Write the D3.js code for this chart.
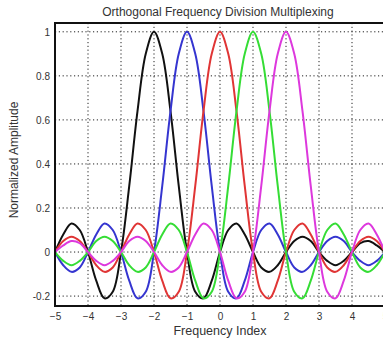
<!DOCTYPE html>
<html>
<head>
<meta charset="utf-8">
<script src="https://cdn.jsdelivr.net/npm/d3@7"></script>
<style>
  body { margin: 0; background: #fff; }
  text { font-family: "Liberation Sans", Arial, sans-serif; fill: #333; }
</style>
</head>
<body>
<div id="chart"></div>
<script>
// frequency index samples (x) and normalized amplitude of each subcarrier
const freqIndex = d3.range(-5, 5.001, 0.25);

const sub_m2 = [0, .08, .13, .10, 0, -.13, -.21, -.18, 0, .30, .64, .90, 1, .90, .64, .30,
  0, -.18, -.21, -.13, 0, .10, .13, .08, 0, -.07, -.09, -.06, 0, .05, .07, .05,
  0, -.04, -.06, -.04, 0, .04, .05, .03, 0];
const sub_m1 = [0, -.06, -.09, -.07, 0, .08, .13, .10, 0, -.13, -.21, -.18, 0, .30, .64, .90,
  1, .90, .64, .30, 0, -.18, -.21, -.13, 0, .10, .13, .08, 0, -.07, -.09, -.06,
  0, .05, .07, .05, 0, -.04, -.06, -.04, 0];
const sub_0 = [0, .05, .07, .05, 0, -.06, -.09, -.07, 0, .08, .13, .10, 0, -.13, -.21, -.18,
  0, .30, .64, .90, 1, .90, .64, .30, 0, -.18, -.21, -.13, 0, .10, .13, .08,
  0, -.07, -.09, -.06, 0, .05, .07, .05, 0];
const sub_p1 = [0, -.04, -.06, -.04, 0, .05, .07, .05, 0, -.06, -.09, -.07, 0, .08, .13, .10,
  0, -.13, -.21, -.18, 0, .30, .64, .90, 1, .90, .64, .30, 0, -.18, -.21, -.13,
  0, .10, .13, .08, 0, -.07, -.09, -.06, 0];
const sub_p2 = [0, .03, .05, .04, 0, -.04, -.06, -.04, 0, .05, .07, .05, 0, -.06, -.09, -.07,
  0, .08, .13, .10, 0, -.13, -.21, -.18, 0, .30, .64, .90, 1, .90, .64, .30,
  0, -.18, -.21, -.13, 0, .10, .13, .08, 0];

const seriesList = [sub_m2, sub_m1, sub_0, sub_p1, sub_p2];
const colors = ['#111111', '#3535d0', '#e03535', '#35dd35', '#dd38dd'];

const xTicks = [-5, -4, -3, -2, -1, 0, 1, 2, 3, 4, 5];
const yTicks = [-0.2, 0, 0.2, 0.4, 0.6, 0.8, 1];
const yTickLabels = ['-0.2', '0', '0.2', '0.4', '0.6', '0.8', '1'];

const WIDTH = 383;
const HEIGHT = 343;
const PLOT = { LEFT: 55, RIGHT: 385, TOP: 23, BOTTOM: 306 };

const svg = d3.select('#chart')
  .append('svg')
  .attr('width', WIDTH)
  .attr('height', HEIGHT);

const xScale = d3.scaleLinear().domain([-5, 5]).range([PLOT.LEFT, PLOT.RIGHT]);
const yScale = d3.scaleLinear().domain([-0.245, 1.04]).range([PLOT.BOTTOM, PLOT.TOP]);

// grid (dotted, matlab style)
svg.append('g')
  .selectAll('line')
  .data(xTicks)
  .join('line')
  .attr('x1', (d) => xScale(d))
  .attr('x2', (d) => xScale(d))
  .attr('y1', PLOT.TOP)
  .attr('y2', PLOT.BOTTOM)
  .attr('stroke', '#222')
  .attr('stroke-width', 1)
  .attr('stroke-dasharray', '1.2,2.6');

svg.append('g')
  .selectAll('line')
  .data(yTicks)
  .join('line')
  .attr('x1', PLOT.LEFT)
  .attr('x2', PLOT.RIGHT)
  .attr('y1', (d) => yScale(d))
  .attr('y2', (d) => yScale(d))
  .attr('stroke', '#222')
  .attr('stroke-width', 1)
  .attr('stroke-dasharray', '1.2,2.6');

// curves
const lineGenerator = d3.line()
  .x((d, i) => xScale(freqIndex[i]))
  .y((d) => yScale(d))
  .curve(d3.curveCatmullRom.alpha(0.5));

svg.append('g')
  .selectAll('path')
  .data(seriesList)
  .join('path')
  .attr('d', (d) => lineGenerator(d))
  .attr('fill', 'none')
  .attr('stroke', (d, i) => colors[i])
  .attr('stroke-width', 2)
  .attr('stroke-linejoin', 'round');

// frame
svg.append('rect')
  .attr('x', PLOT.LEFT)
  .attr('y', PLOT.TOP)
  .attr('width', PLOT.RIGHT - PLOT.LEFT)
  .attr('height', PLOT.BOTTOM - PLOT.TOP)
  .attr('fill', 'none')
  .attr('stroke', '#111')
  .attr('stroke-width', 2);

// axes labels
const xAxis = d3.axisBottom(xScale)
  .tickValues(xTicks)
  .tickSize(0)
  .tickPadding(7)
  .tickFormat(d3.format('d'));
const xAxisGroup = svg.append('g')
  .attr('transform', `translate(0, ${PLOT.BOTTOM})`)
  .call(xAxis);
xAxisGroup.select('.domain').remove();
xAxisGroup.selectAll('text').attr('font-size', 10).style('fill', '#333');

const yAxis = d3.axisLeft(yScale)
  .tickValues(yTicks)
  .tickSize(0)
  .tickPadding(5)
  .tickFormat((d, i) => yTickLabels[i]);
const yAxisGroup = svg.append('g')
  .attr('transform', `translate(${PLOT.LEFT}, 0)`)
  .call(yAxis);
yAxisGroup.select('.domain').remove();
yAxisGroup.selectAll('text').attr('font-size', 10).style('fill', '#333');

svg.append('text')
  .attr('x', 218)
  .attr('y', 16)
  .attr('text-anchor', 'middle')
  .attr('font-size', 12)
  .text('Orthogonal Frequency Division Multiplexing');

svg.append('text')
  .attr('x', 220)
  .attr('y', 335)
  .attr('text-anchor', 'middle')
  .attr('font-size', 12.5)
  .text('Frequency Index');

svg.append('text')
  .attr('transform', 'translate(18, 160) rotate(-90)')
  .attr('text-anchor', 'middle')
  .attr('font-size', 12)
  .text('Normalized Amplitude');
</script>
</body>
</html>
